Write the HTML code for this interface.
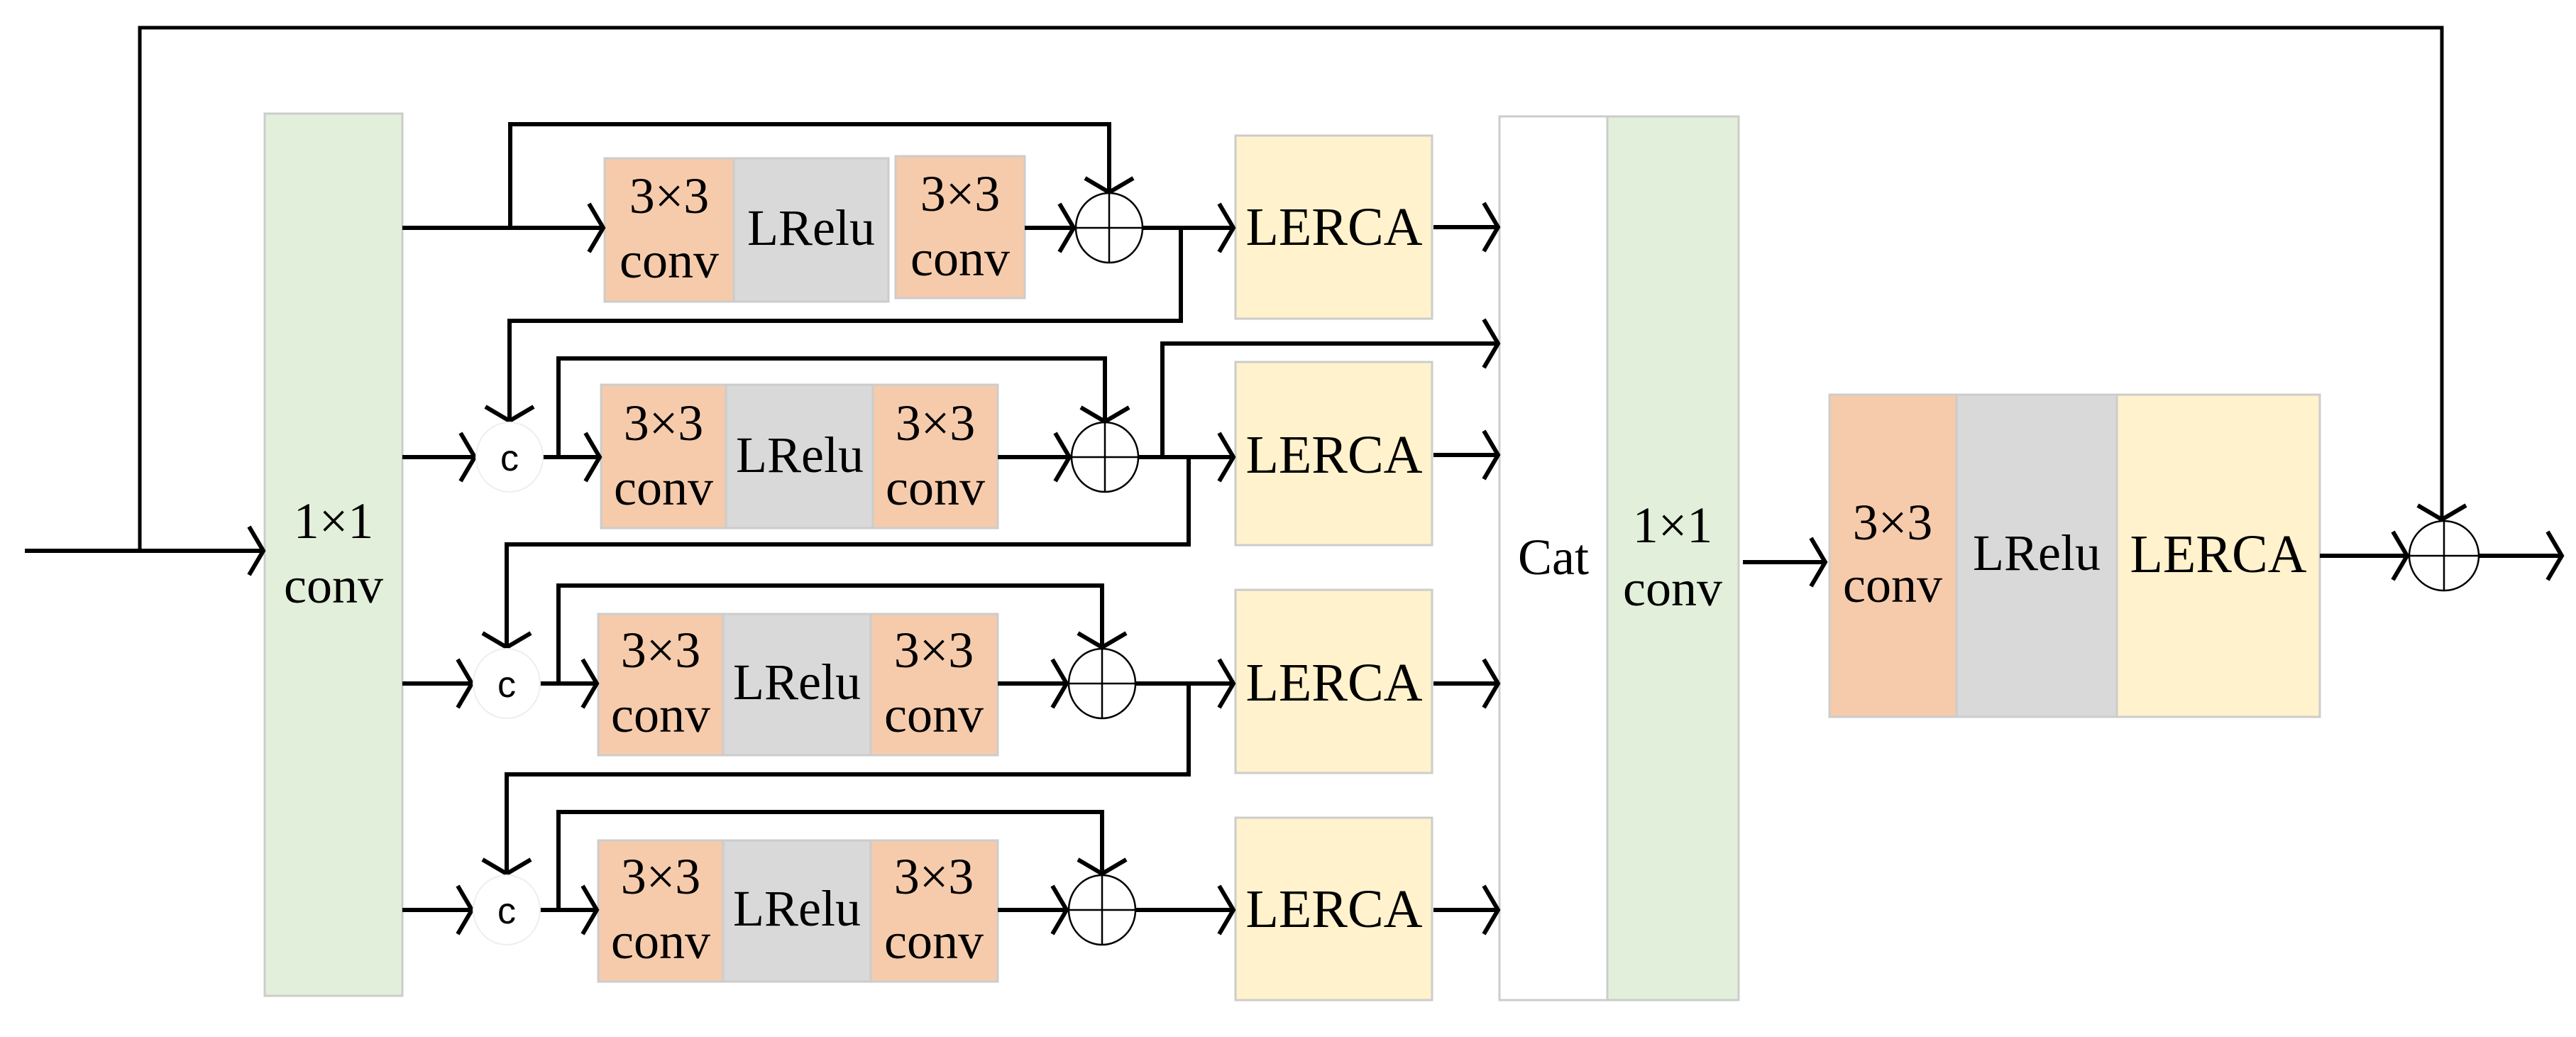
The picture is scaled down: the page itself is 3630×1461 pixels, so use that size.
<!DOCTYPE html>
<html><head><meta charset="utf-8"><style>html,body{margin:0;padding:0;background:#fff}svg{display:block}</style></head>
<body>
<svg width="3630" height="1461" viewBox="0 0 3630 1461" xmlns="http://www.w3.org/2000/svg" font-family="Liberation Serif, serif" font-size="72" text-anchor="middle">
<defs>
<marker id="a" markerUnits="userSpaceOnUse" markerWidth="70" markerHeight="90" viewBox="-40 -45 70 90" refX="0" refY="0" orient="auto">
<path d="M-20,-34 L0,0 L-20,34" fill="none" stroke="#000" stroke-width="6"/>
</marker>
</defs>
<g stroke="#ccc" stroke-width="3">
<rect x="373" y="160" width="194" height="1243" fill="#e2efda"/>
<!-- row1 -->
<rect x="852" y="223" width="182" height="202" fill="#f6cbab"/>
<rect x="1034" y="223" width="218" height="202" fill="#d9d9d9"/>
<rect x="1262" y="220" width="182" height="200" fill="#f6cbab"/>
<!-- row2 -->
<rect x="847" y="542" width="176" height="202" fill="#f6cbab"/>
<rect x="1023" y="542" width="207" height="202" fill="#d9d9d9"/>
<rect x="1230" y="542" width="176" height="202" fill="#f6cbab"/>
<!-- row3 -->
<rect x="843" y="865" width="176" height="199" fill="#f6cbab"/>
<rect x="1019" y="865" width="208" height="199" fill="#d9d9d9"/>
<rect x="1227" y="865" width="179" height="199" fill="#f6cbab"/>
<!-- row4 -->
<rect x="843" y="1184" width="176" height="199" fill="#f6cbab"/>
<rect x="1019" y="1184" width="208" height="199" fill="#d9d9d9"/>
<rect x="1227" y="1184" width="179" height="199" fill="#f6cbab"/>
<!-- LERCA -->
<rect x="1741" y="191" width="277" height="258" fill="#fff2cc"/>
<rect x="1741" y="510" width="277" height="258" fill="#fff2cc"/>
<rect x="1741" y="831" width="277" height="258" fill="#fff2cc"/>
<rect x="1741" y="1152" width="277" height="257" fill="#fff2cc"/>
<!-- cat -->
<rect x="2113" y="164" width="152" height="1245" fill="#fff"/>
<rect x="2265" y="164" width="185" height="1245" fill="#e2efda"/>
<!-- final -->
<rect x="2578" y="556" width="179" height="454" fill="#f6cbab"/>
<rect x="2757" y="556" width="226" height="454" fill="#d9d9d9"/>
<rect x="2983" y="556" width="286" height="454" fill="#fff2cc"/>
</g>
<g fill="none" stroke="#000" stroke-width="6" marker-end="url(#a)">
<path d="M35,776 H371"/>
<path d="M197,776 V39 H3441 V732" stroke-width="5"/>
<path d="M567,321 H850"/>
<path d="M719,321 V175 H1563 V271"/>
<path d="M1444,321 H1513"/>
<path d="M1611,321 H1738"/>
<path d="M1664,321 V452 H718 V593"/>
<path d="M567,644 H669"/>
<path d="M765,644 H845"/>
<path d="M787,644 V505 H1557 V594"/>
<path d="M1406,644 H1507"/>
<path d="M1605,644 H1738"/>
<path d="M1638,644 V484 H2111"/>
<path d="M1675,644 V767 H714 V912"/>
<path d="M567,963 H665"/>
<path d="M761,963 H841"/>
<path d="M787,963 V825 H1553 V912"/>
<path d="M1406,963 H1503"/>
<path d="M1601,963 H1738"/>
<path d="M1675,963 V1091 H714 V1231"/>
<path d="M567,1282 H665"/>
<path d="M761,1282 H841"/>
<path d="M787,1282 V1144 H1553 V1231"/>
<path d="M1406,1282 H1503"/>
<path d="M1601,1282 H1738"/>
<path d="M2020,320 H2111"/>
<path d="M2020,641 H2111"/>
<path d="M2020,963 H2111"/>
<path d="M2020,1282 H2111"/>
<path d="M2456,792 H2572"/>
<path d="M3269,783 H3392"/>
<path d="M3494,783 H3610"/>
</g>
<g fill="#fff" stroke="#000" stroke-width="2.5">
<ellipse cx="1563" cy="321" rx="47" ry="49"/>
<ellipse cx="1557" cy="644" rx="47" ry="49"/>
<ellipse cx="1553" cy="963" rx="47" ry="49"/>
<ellipse cx="1553" cy="1282" rx="47" ry="49"/>
<ellipse cx="3444" cy="783" rx="49" ry="49"/>
<path d="M1516,321 H1610 M1563,272 V370 M1510,644 H1604 M1557,595 V693 M1506,963 H1600 M1553,914 V1012 M1506,1282 H1600 M1553,1233 V1331 M3395,783 H3493 M3444,734 V832" fill="none"/>
</g>
<g fill="#fff" stroke="#eee" stroke-width="2">
<ellipse cx="718" cy="644" rx="47" ry="49"/>
<ellipse cx="714" cy="963" rx="47" ry="49"/>
<ellipse cx="714" cy="1282" rx="47" ry="49"/>
</g>
<g font-family="Liberation Sans, sans-serif" font-size="52">
<text x="718" y="663">c</text>
<text x="714" y="982">c</text>
<text x="714" y="1301">c</text>
</g>
<g fill="#000">
<text x="470" y="758">1×1</text><text x="470" y="849">conv</text>
<text x="943" y="300">3×3</text><text x="943" y="391">conv</text>
<text x="1143" y="345">LRelu</text>
<text x="1353" y="297">3×3</text><text x="1353" y="388">conv</text>
<text x="935" y="620">3×3</text><text x="935" y="711">conv</text>
<text x="1127" y="665">LRelu</text>
<text x="1318" y="620">3×3</text><text x="1318" y="711">conv</text>
<text x="931" y="940">3×3</text><text x="931" y="1031">conv</text>
<text x="1123" y="985">LRelu</text>
<text x="1316" y="940">3×3</text><text x="1316" y="1031">conv</text>
<text x="931" y="1259">3×3</text><text x="931" y="1350">conv</text>
<text x="1123" y="1304">LRelu</text>
<text x="1316" y="1259">3×3</text><text x="1316" y="1350">conv</text>
<g font-size="76">
<text x="1880" y="345">LERCA</text>
<text x="1880" y="666">LERCA</text>
<text x="1880" y="987">LERCA</text>
<text x="1880" y="1306">LERCA</text>
<text x="3126" y="806">LERCA</text>
</g>
<text x="2189" y="809">Cat</text>
<text x="2357" y="764">1×1</text><text x="2357" y="853">conv</text>
<text x="2667" y="760">3×3</text><text x="2667" y="848">conv</text>
<text x="2870" y="803">LRelu</text>
</g>
</svg>
</body></html>
